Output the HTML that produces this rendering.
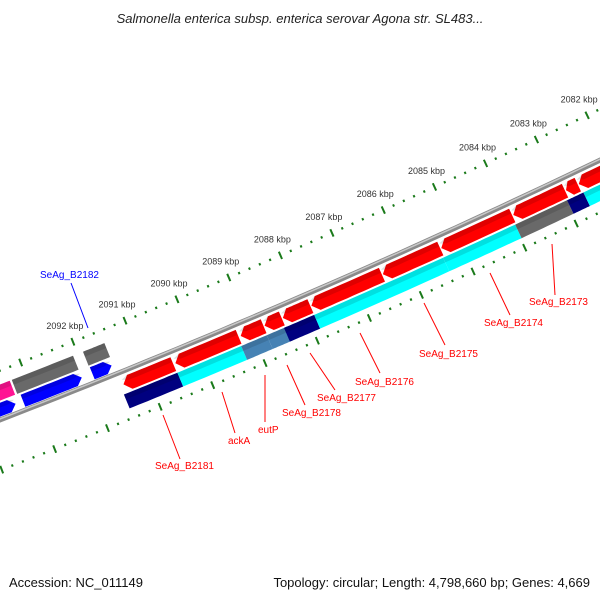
<!DOCTYPE html>
<html><head><meta charset="utf-8"><style>
body{margin:0;background:#fff}
svg{display:block}
text{font-family:"Liberation Sans","DejaVu Sans",sans-serif}
</style></head><body>
<svg id="map" width="600" height="600" viewBox="0 0 600 600">
<rect width="600" height="600" fill="#fff"/>
<text x="300" y="23" text-anchor="middle" font-size="13" font-style="italic" fill="#222">Salmonella enterica subsp. enterica serovar Agona str. SL483...</text>
<g id="rings"></g>
<g id="labels"></g>
<text x="9" y="587" font-size="13" fill="#111">Accession: NC_011149</text>
<text x="590" y="587" text-anchor="end" font-size="13" fill="#111">Topology: circular; Length: 4,798,660 bp; Genes: 4,669</text>
</svg>
<script>
const tickKbp = [2082,2083,2084,2085,2086,2087,2088,2089,2090,2091,2092];
const redStarts = [2091.45,2090.46,2089.21,2088.75,2088.40,2087.85,2086.47,2085.34,2083.94,2082.91,2082.66];
const redEnds   = [2090.50,2089.25,2088.77,2088.42,2087.87,2086.49,2085.36,2083.96,2082.93,2082.68,2081.50];
const lowStarts = [2091.51,2090.49,2089.27,2088.78,2088.45,2087.87,2085.38,2083.98,2082.97,2082.65];
const lowEnds   = [2090.49,2089.27,2088.78,2088.39,2087.87,2085.38,2083.98,2082.97,2082.65,2081.50];
const lowColors = ['#000080','#00ffff','#4682b4','#4682b4','#000080','#00ffff','#00ffff','#696969','#000080','#00ffff'];
const grayStarts = [2094.00,2093.26,2091.90];
const grayEnds   = [2093.30,2092.09,2091.49];
const grayColors = ['#ff1493','#696969','#696969'];
const blueStarts = [2094.00,2093.21,2091.89];
const blueEnds   = [2093.35,2092.09,2091.52];
const labelNames = ['SeAg_B2181','ackA','eutP','SeAg_B2178','SeAg_B2177','SeAg_B2176','SeAg_B2175','SeAg_B2174','SeAg_B2173'];

const NS='http://www.w3.org/2000/svg';
const cx=-3014, cy=-7365;
const a0=Math.atan2(115-cy,587-cx), a1=Math.atan2(342-cy,73-cx);
function ang(k){return a0+(k-2082)/(2092-2082)*(a1-a0);}
function pt(k,r){const a=ang(k);return [cx+r*Math.cos(a),cy+r*Math.sin(a)];}
const rings=document.getElementById('rings');
function mk(tag,attrs){const e=document.createElementNS(NS,tag);for(const k in attrs)e.setAttribute(k,attrs[k]);return e;}
function arcPts(k1,k2,r,n){const p=[];for(let i=0;i<=n;i++){p.push(pt(k1+(k2-k1)*i/n,r));}return p;}
function feature(k1,k2,ri,ro,color,arrow){
  // k1 > k2 ; arrow: 'hi' (tip at k1), 'lo' (tip at k2), or none
  const len=Math.abs(k1-k2), ah=Math.min(0.12,len*0.4);
  let a=k1,b=k2;
  if(arrow==='hi')a=k1-ah;
  if(arrow==='lo')b=k2+ah;
  let p=arcPts(a,b,ro,12);
  if(arrow==='lo')p.push(pt(k2,(ri+ro)/2));
  p=p.concat(arcPts(b,a,ri,12));
  if(arrow==='hi')p.push(pt(k1,(ri+ro)/2));
  return p.map(q=>q[0].toFixed(1)+','+q[1].toFixed(1)).join(' ');
}
// backbone
const bb=arcPts(2096,2079,8348,60).map(q=>q[0].toFixed(1)+','+q[1].toFixed(1)).join(' ');
let e=mk('polyline',{points:bb,fill:'none',stroke:'#8a8a8a','stroke-width':5});


rings.appendChild(e);
e=mk('polyline',{points:bb,fill:'none',stroke:'#c8c8c8','stroke-width':1.5,transform:'translate(0,-1)'});


rings.appendChild(e);
// ticks
function tickRing(r,name){
  for(let i=0;i<=75;i++){
    const k=2080+i*0.2, major=(i%5===0);
    const h=major?4:1.2;
    const p1=pt(k,r-h),p2=pt(k,r+h);
    const t=mk('line',{x1:p1[0],y1:p1[1],x2:p2[0],y2:p2[1],stroke:'#1a7a1a','stroke-width':major?2:2});
    
    
    rings.appendChild(t);
  }
}
tickRing(8302,'outer');
tickRing(8395,'inner');
tickKbp.forEach(k=>{
  const p=pt(k,8302);
  const t=mk('text',{x:p[0]-8,y:p[1]-13,'text-anchor':'middle','font-size':9,fill:'#333'});
  t.textContent=k+' kbp';
  
  
  rings.appendChild(t);
});
function addFeat(k1,k2,ri,ro,color,arrow,name){
  const f=mk('polygon',{points:feature(k1,k2,ri,ro,color,arrow),fill:color});
  
  
  rings.appendChild(f);
  const s=mk('polygon',{points:feature(k1,k2,ri,ri+(ro-ri)*0.35,color,arrow),fill:'#000','fill-opacity':0.12});
  
  
  rings.appendChild(s);
}
grayStarts.forEach((s,i)=>addFeat(s,grayEnds[i],8315,8330,grayColors[i],null,'gray-gene'));
blueStarts.forEach((s,i)=>addFeat(s,blueEnds[i],8332,8345,'#0000ff','lo','blue-gene'));
redStarts.forEach((s,i)=>addFeat(s,redEnds[i],8353,8368,'#ff0000','hi','red-gene'));
lowStarts.forEach((s,i)=>addFeat(s,lowEnds[i],8370,8385,lowColors[i],null,'cds-gene'));
// labels
const L=document.getElementById('labels');
const labelPos=[[155,469,163,415,180,459],[228,444,222,392,235,433],[258,433,265,375,265,422],[282,416,287,365,305,405],[317,401,310,353,335,390],[355,385,360,333,380,373],[419,357,424,303,445,345],[484,326,490,273,510,315],[529,305,552,244,555,295]];
labelNames.forEach((n,i)=>{
  const q=labelPos[i];
  const l=mk('line',{x1:q[2],y1:q[3],x2:q[4],y2:q[5],stroke:'#ff0000','stroke-width':1});
  
  
  L.appendChild(l);
  const t=mk('text',{x:q[0],y:q[1],'font-size':10,fill:'#ff0000'});
  t.textContent=n;
  
  
  L.appendChild(t);
});
let bl=mk('line',{x1:71,y1:283,x2:88,y2:328,stroke:'#0000ff','stroke-width':1});


L.appendChild(bl);
let bt=mk('text',{x:40,y:278,'font-size':10,fill:'#0000ff'});
bt.textContent='SeAg_B2182';


L.appendChild(bt);
</script>
</body></html>
